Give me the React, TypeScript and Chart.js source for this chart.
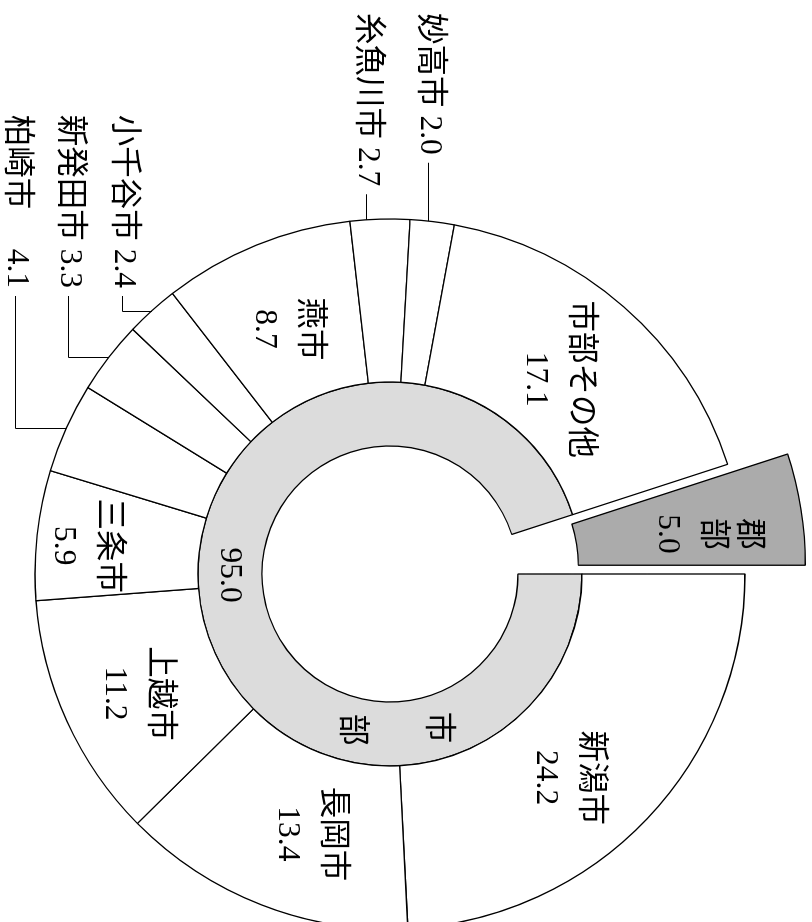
import React, { useEffect, useRef } from 'react';
import { Chart, registerables } from 'chart.js';

Chart.register(...registerables);

// ---- data ----
const CITY_LABELS = ['新潟市', '長岡市', '上越市', '三条市', '柏崎市', '新発田市', '小千谷市', '燕市', '糸魚川市', '妙高市', '市部その他', '郡部'];
const CITY_VALUES = [24.2, 13.4, 11.2, 5.9, 4.1, 3.3, 2.4, 8.7, 2.7, 2.0, 17.1, 5.0];
const AREA_LABELS = ['市部', '郡部'];
const AREA_VALUES = [95.0, 5.0];

// ---- layout / style ----
const CANVAS_W = 922;
const CANVAS_H = 812;
const FONT_SIZE = 31.5;
const FONT = `${FONT_SIZE}px 'Liberation Serif', 'Noto Sans CJK JP', serif`;
const GUNBU = '郡部';
const EXPLODE = 56;
const EXPLODE_GROW = 5;
const NAME_LINE = 36;
const VALUE_GAP = 45;
const LEADER_GAP = 8;
const BORDER_W = 1.3;

const INSIDE_LABELS: Record<string, { dA: number; r: number; stack?: boolean }> = {
  '新潟市': { dA: 5.4, r: 270 },
  '長岡市': { dA: -4.1, r: 272 },
  '上越市': { dA: -0.8, r: 280 },
  '三条市': { dA: -1, r: 306 },
  '燕市': { dA: -0.8, r: 266 },
  '市部その他': { dA: -0.5, r: 257 },
  '郡部': { dA: 2.2, r: 264, stack: true },
};

const CALLOUTS: Record<string, { mode: string; align: CanvasTextAlign; x: number; y: number; sep: string }> = {
  '妙高市': { mode: 'level', align: 'left', x: 13, y: 383, sep: ' ' },
  '糸魚川市': { mode: 'level', align: 'left', x: 13, y: 445, sep: ' ' },
  '小千谷市': { mode: 'elbow', align: 'right', x: 288, y: 689, sep: ' ' },
  '新発田市': { mode: 'elbow', align: 'right', x: 288, y: 743, sep: ' ' },
  '柏崎市': { mode: 'elbow', align: 'right', x: 288, y: 796, sep: '\u3000 ' },
};

const RING_TEXT = { nameDeg: [73, 104], valueDeg: 179.6, r: 160.5 };

const explodePlugin = {
  id: 'explodeGunbu',
  afterDatasetsUpdate(chart: any) {
    const outer = chart.getDatasetMeta(0);
    const inner = chart.getDatasetMeta(1);
    const idx = CITY_LABELS.indexOf(GUNBU);
    const el = outer.data[idx];
    if (!el) return;
    const mid = (el.startAngle + el.endAngle) / 2;
    el.x += Math.cos(mid) * EXPLODE;
    el.y += Math.sin(mid) * EXPLODE;
    el.innerRadius = inner.controller.innerRadius + EXPLODE_GROW;
    el.outerRadius = el.outerRadius + EXPLODE_GROW;
  },
};

const labelPlugin = {
  id: 'sliceLabels',
  afterDatasetsDraw(chart: any) {
    const ctx: CanvasRenderingContext2D = chart.ctx;
    const outer = chart.getDatasetMeta(0).data as any[];
    const inner = chart.getDatasetMeta(1).data as any[];
    ctx.save();
    ctx.font = FONT;
    ctx.fillStyle = '#000';
    ctx.strokeStyle = '#000';
    ctx.lineWidth = 1;
    ctx.textBaseline = 'middle';

    CITY_LABELS.forEach((name, i) => {
      const el = outer[i];
      const value = CITY_VALUES[i].toFixed(1);
      const mid = (el.startAngle + el.endAngle) / 2;
      const ins = INSIDE_LABELS[name];
      if (ins) {
        const a = mid + (ins.dA * Math.PI) / 180;
        const px = el.x + Math.cos(a) * ins.r;
        const py = el.y + Math.sin(a) * ins.r;
        const names = ins.stack ? [...name] : [name];
        const ys: number[] = [];
        let y = 0;
        names.forEach(() => {
          ys.push(y);
          y += NAME_LINE;
        });
        ys.push(ys[ys.length - 1] + VALUE_GAP);
        const shift = py - (ys[0] + ys[ys.length - 1]) / 2;
        ctx.textAlign = 'center';
        [...names, value].forEach((t, k) => ctx.fillText(t, px, ys[k] + shift));
        return;
      }
      const co = CALLOUTS[name];
      if (!co) return;
      const text = name + co.sep + value;
      const w = ctx.measureText(text).width;
      ctx.textAlign = co.align;
      ctx.fillText(text, co.x, co.y);
      const textEnd = co.align === 'left' ? co.x + w : co.x;
      const lx = textEnd + LEADER_GAP;
      const ly = Math.round(co.y) + 0.5;
      ctx.beginPath();
      ctx.moveTo(lx, ly);
      if (co.mode === 'level') {
        const dy = ly - el.y;
        const ax = el.x - Math.sqrt(el.outerRadius * el.outerRadius - dy * dy);
        ctx.lineTo(ax, ly);
      } else {
        const ax = Math.round(el.x + Math.cos(mid) * el.outerRadius) + 0.5;
        const ay = el.y + Math.sin(mid) * el.outerRadius;
        ctx.lineTo(ax, ly);
        ctx.lineTo(ax, ay);
      }
      ctx.stroke();
    });

    const ring = inner[0];
    if (ring) {
      ctx.textAlign = 'center';
      const pos = (deg: number) => {
        const a = ((deg - 90) * Math.PI) / 180;
        return [ring.x + Math.cos(a) * RING_TEXT.r, ring.y + Math.sin(a) * RING_TEXT.r];
      };
      [...AREA_LABELS[0]].forEach((ch, k) => {
        const [x, y] = pos(RING_TEXT.nameDeg[k]);
        ctx.fillText(ch, x, y);
      });
      const [vx, vy] = pos(RING_TEXT.valueDeg);
      ctx.fillText(AREA_VALUES[0].toFixed(1), vx, vy);
    }
    ctx.restore();
  },
};

export default function App() {
  const ref = useRef<HTMLCanvasElement>(null);
  useEffect(() => {
    if (!ref.current) return;
    const chart = new Chart(ref.current, {
      type: 'doughnut',
      data: {
        labels: CITY_LABELS,
        datasets: [
          {
            label: '市区町村',
            data: CITY_VALUES,
            backgroundColor: CITY_LABELS.map((l) => (l === GUNBU ? '#ababab' : '#ffffff')),
            borderColor: '#000000',
            borderWidth: BORDER_W,
            weight: 163,
          } as any,
          {
            label: '区分',
            data: AREA_VALUES,
            backgroundColor: AREA_LABELS.map((l) => (l === GUNBU ? 'rgba(0,0,0,0)' : '#dcdcdc')),
            borderColor: '#000000',
            borderWidth: AREA_LABELS.map((l) => (l === GUNBU ? 0 : BORDER_W)),
            weight: 64,
          } as any,
        ],
      },
      options: {
        responsive: false,
        animation: false,
        devicePixelRatio: 1,
        radius: 355,
        cutout: '36.06%',
        layout: { padding: { left: 226, right: 0, top: 32, bottom: 0 } },
        plugins: { legend: { display: false }, tooltip: { enabled: false } },
        events: [],
      } as any,
      plugins: [explodePlugin, labelPlugin],
    });
    return () => chart.destroy();
  }, []);

  return (
    <div style={{ position: 'fixed', left: 0, top: 0, width: CANVAS_H, height: CANVAS_W, overflow: 'hidden', background: '#fff' }}>
      <div
        style={{
          position: 'absolute',
          left: 0,
          top: 0,
          width: CANVAS_W,
          height: CANVAS_H,
          transform: `translate(${CANVAS_H}px, 0px) rotate(90deg)`,
          transformOrigin: '0 0',
        }}
      >
        <canvas ref={ref} width={CANVAS_W} height={CANVAS_H} style={{ display: 'block' }} />
      </div>
    </div>
  );
}
